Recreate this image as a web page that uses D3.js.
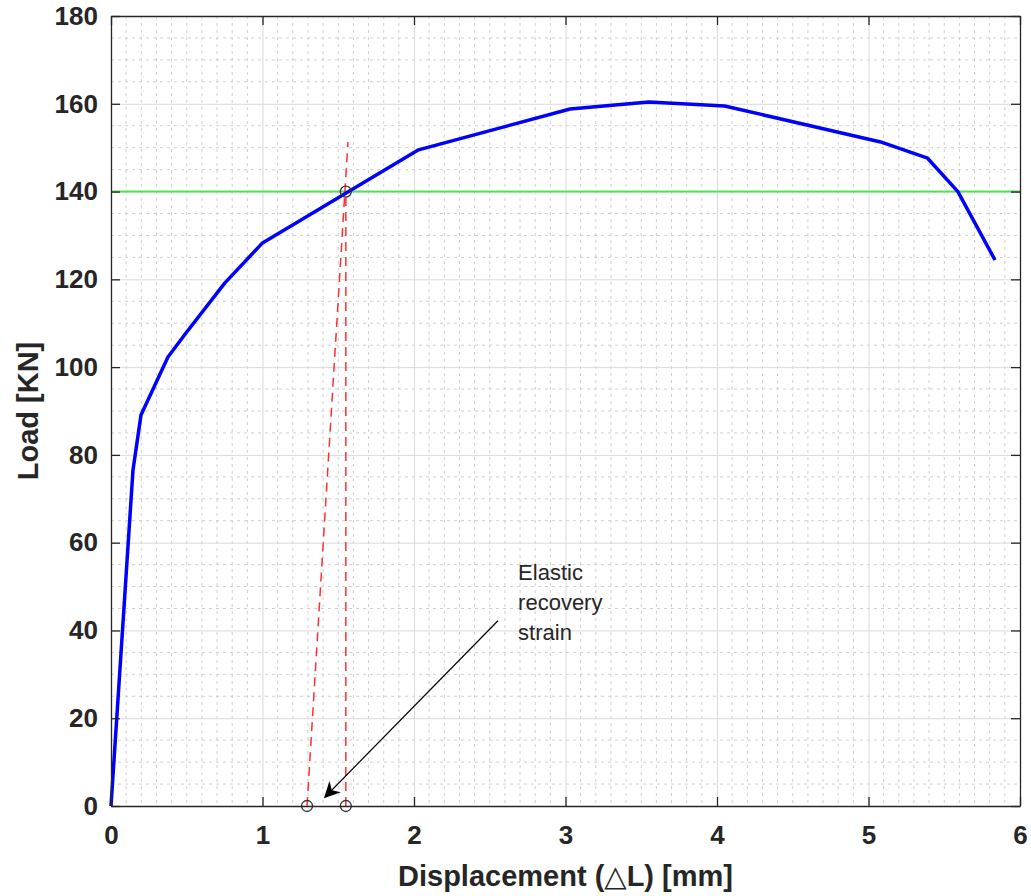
<!DOCTYPE html>
<html>
<head>
<meta charset="utf-8">
<script src="https://cdn.jsdelivr.net/npm/d3@7"></script>
<style>
  body { margin: 0; background: #fff; }
  text { font-family: "Liberation Sans", Arial, Helvetica, sans-serif; }
</style>
</head>
<body>
<div id="chart"></div>
<script>
// load-displacement curve
var displacement = [0, 0.145, 0.198, 0.376, 0.5, 0.752, 1.0, 2.03, 3.03, 3.55, 4.05, 5.08, 5.39, 5.59, 5.835];
var load = [0, 76.5, 89.1, 102.3, 108, 119.2, 128.3, 149.5, 158.8, 160.4, 159.5, 151.3, 147.6, 140, 124.4];

var yieldLoad = 140;
var offsetLine = [[1.294, 0], [1.564, 151.3]];
var dropLine = [[1.55, 0], [1.55, 140]];
var markers = [[1.55, 140], [1.294, 0], [1.55, 0]];
var arrowFrom = [2.554, 42.2];
var arrowTo = [1.413, 2.05];
var noteAt = [2.687, 51.5];
var noteLines = ["Elastic", "recovery", "strain"];

var xTicks = [0, 1, 2, 3, 4, 5, 6];
var yTicks = [0, 20, 40, 60, 80, 100, 120, 140, 160, 180];

var width = 1031;
var height = 896;
var margin = {top: 16, right: 11, bottom: 90, left: 111};
var w = width - margin.left - margin.right;
var h = height - margin.top - margin.bottom;

var svg = d3.select("#chart")
  .append("svg")
  .attr("width", width)
  .attr("height", height);

var x = d3.scaleLinear().domain([0, 6]).range([0, w]);
var y = d3.scaleLinear().domain([0, 180]).range([h, 0]);

var g = svg.append("g")
  .attr("transform", "translate(" + margin.left + "," + margin.top + ")");

// minor grid
g.append("g")
  .selectAll("line")
  .data(d3.range(1, 60).map(d => d / 10).filter(d => Math.abs(d - Math.round(d)) > 1e-6))
  .enter().append("line")
  .attr("x1", d => x(d)).attr("x2", d => x(d))
  .attr("y1", 0).attr("y2", h)
  .attr("stroke", "#d0d0d0")
  .attr("stroke-dasharray", "3,4");

g.append("g")
  .selectAll("line")
  .data(d3.range(5, 180, 5).filter(d => d % 20 != 0))
  .enter().append("line")
  .attr("x1", 0).attr("x2", w)
  .attr("y1", d => y(d)).attr("y2", d => y(d))
  .attr("stroke", "#d0d0d0")
  .attr("stroke-dasharray", "3,4");

// major grid
g.append("g")
  .call(d3.axisBottom(x).tickValues(xTicks).tickSize(h).tickFormat(""))
  .call(a => a.select(".domain").remove())
  .call(a => a.selectAll("line").attr("stroke", "#dadada"));

g.append("g")
  .call(d3.axisLeft(y).tickValues(yTicks).tickSize(-w).tickFormat(""))
  .call(a => a.select(".domain").remove())
  .call(a => a.selectAll("line").attr("stroke", "#dadada"));

// yield level
g.append("line")
  .attr("x1", x(0)).attr("x2", x(6))
  .attr("y1", y(yieldLoad)).attr("y2", y(yieldLoad))
  .attr("stroke", "#55e055")
  .attr("stroke-width", 2);

// offset / recovery lines
var line = d3.line().x(d => x(d[0])).y(d => y(d[1]));

g.append("path")
  .datum(offsetLine)
  .attr("d", line)
  .attr("fill", "none")
  .attr("stroke", "#ff3030")
  .attr("stroke-width", 1.5)
  .attr("stroke-dasharray", "9,6");

g.append("path")
  .datum(dropLine)
  .attr("d", line)
  .attr("fill", "none")
  .attr("stroke", "#ff3030")
  .attr("stroke-width", 1.5)
  .attr("stroke-dasharray", "9,6");

// main curve
var pts = displacement.map((d, i) => [d, load[i]]);
g.append("path")
  .datum(pts)
  .attr("d", line)
  .attr("fill", "none")
  .attr("stroke", "#0000ff")
  .attr("stroke-width", 3.5)
  .attr("stroke-linejoin", "round");

g.selectAll(".marker")
  .data(markers)
  .enter().append("circle")
  .attr("class", "marker")
  .attr("cx", d => x(d[0]))
  .attr("cy", d => y(d[1]))
  .attr("r", 5.5)
  .attr("fill", "none")
  .attr("stroke", "#333")
  .attr("stroke-width", 1.3);

// annotation arrow
svg.append("defs").append("marker")
  .attr("id", "head")
  .attr("viewBox", "0 0 10 10")
  .attr("refX", 9).attr("refY", 5)
  .attr("markerWidth", 20).attr("markerHeight", 16)
  .attr("markerUnits", "userSpaceOnUse")
  .attr("orient", "auto")
  .append("path")
  .attr("d", "M0,0 L10,5 L0,10 L3,5 Z")
  .attr("fill", "#000");

g.append("line")
  .attr("x1", x(arrowFrom[0])).attr("y1", y(arrowFrom[1]))
  .attr("x2", x(arrowTo[0])).attr("y2", y(arrowTo[1]))
  .attr("stroke", "#000")
  .attr("stroke-width", 1.2)
  .attr("marker-end", "url(#head)");

g.append("text")
  .attr("x", x(noteAt[0]))
  .attr("y", y(noteAt[1]))
  .attr("font-size", 22)
  .attr("fill", "#262626")
  .selectAll("tspan")
  .data(noteLines)
  .enter().append("tspan")
  .attr("x", x(noteAt[0]))
  .attr("dy", (d, i) => i == 0 ? 0 : 30)
  .text(d => d);

// box with inward ticks
var axBottom = g.append("g")
  .attr("transform", "translate(0," + h + ")")
  .call(d3.axisBottom(x).tickValues(xTicks).tickSizeInner(-9).tickSizeOuter(0).tickPadding(20).tickFormat(d3.format("d")));
var axLeft = g.append("g")
  .call(d3.axisLeft(y).tickValues(yTicks).tickSizeInner(-9).tickSizeOuter(0).tickPadding(13).tickFormat(d3.format("d")));
var axTop = g.append("g")
  .call(d3.axisTop(x).tickValues(xTicks).tickSizeInner(-9).tickSizeOuter(0).tickFormat(""));
var axRight = g.append("g")
  .attr("transform", "translate(" + w + ",0)")
  .call(d3.axisRight(y).tickValues(yTicks).tickSizeInner(-9).tickSizeOuter(0).tickFormat(""));

[axBottom, axLeft, axTop, axRight].forEach(function(a) {
  a.select(".domain").attr("stroke", "#262626").attr("stroke-width", 1.3);
  a.selectAll(".tick line").attr("stroke", "#262626").attr("stroke-width", 1.3);
  a.selectAll(".tick text")
    .attr("font-size", 26)
    .attr("font-weight", "bold")
    .attr("fill", "#262626")
    .style("font-family", "'Liberation Sans', Arial, sans-serif");
});

// axis titles
var xlab = svg.append("text")
  .attr("x", margin.left + w / 2)
  .attr("y", 886)
  .attr("text-anchor", "middle")
  .attr("font-size", 29)
  .attr("font-weight", "bold")
  .attr("fill", "#262626");
xlab.append("tspan").text("Displacement (");
xlab.append("tspan").attr("font-family", "DejaVu Sans").attr("font-weight", "normal").text("\u25B3");
xlab.append("tspan").text("L) [mm]");

svg.append("text")
  .attr("transform", "translate(38," + (margin.top + h / 2) + ") rotate(-90)")
  .attr("text-anchor", "middle")
  .attr("font-size", 29)
  .attr("font-weight", "bold")
  .attr("fill", "#262626")
  .text("Load [KN]");
</script>
</body>
</html>
